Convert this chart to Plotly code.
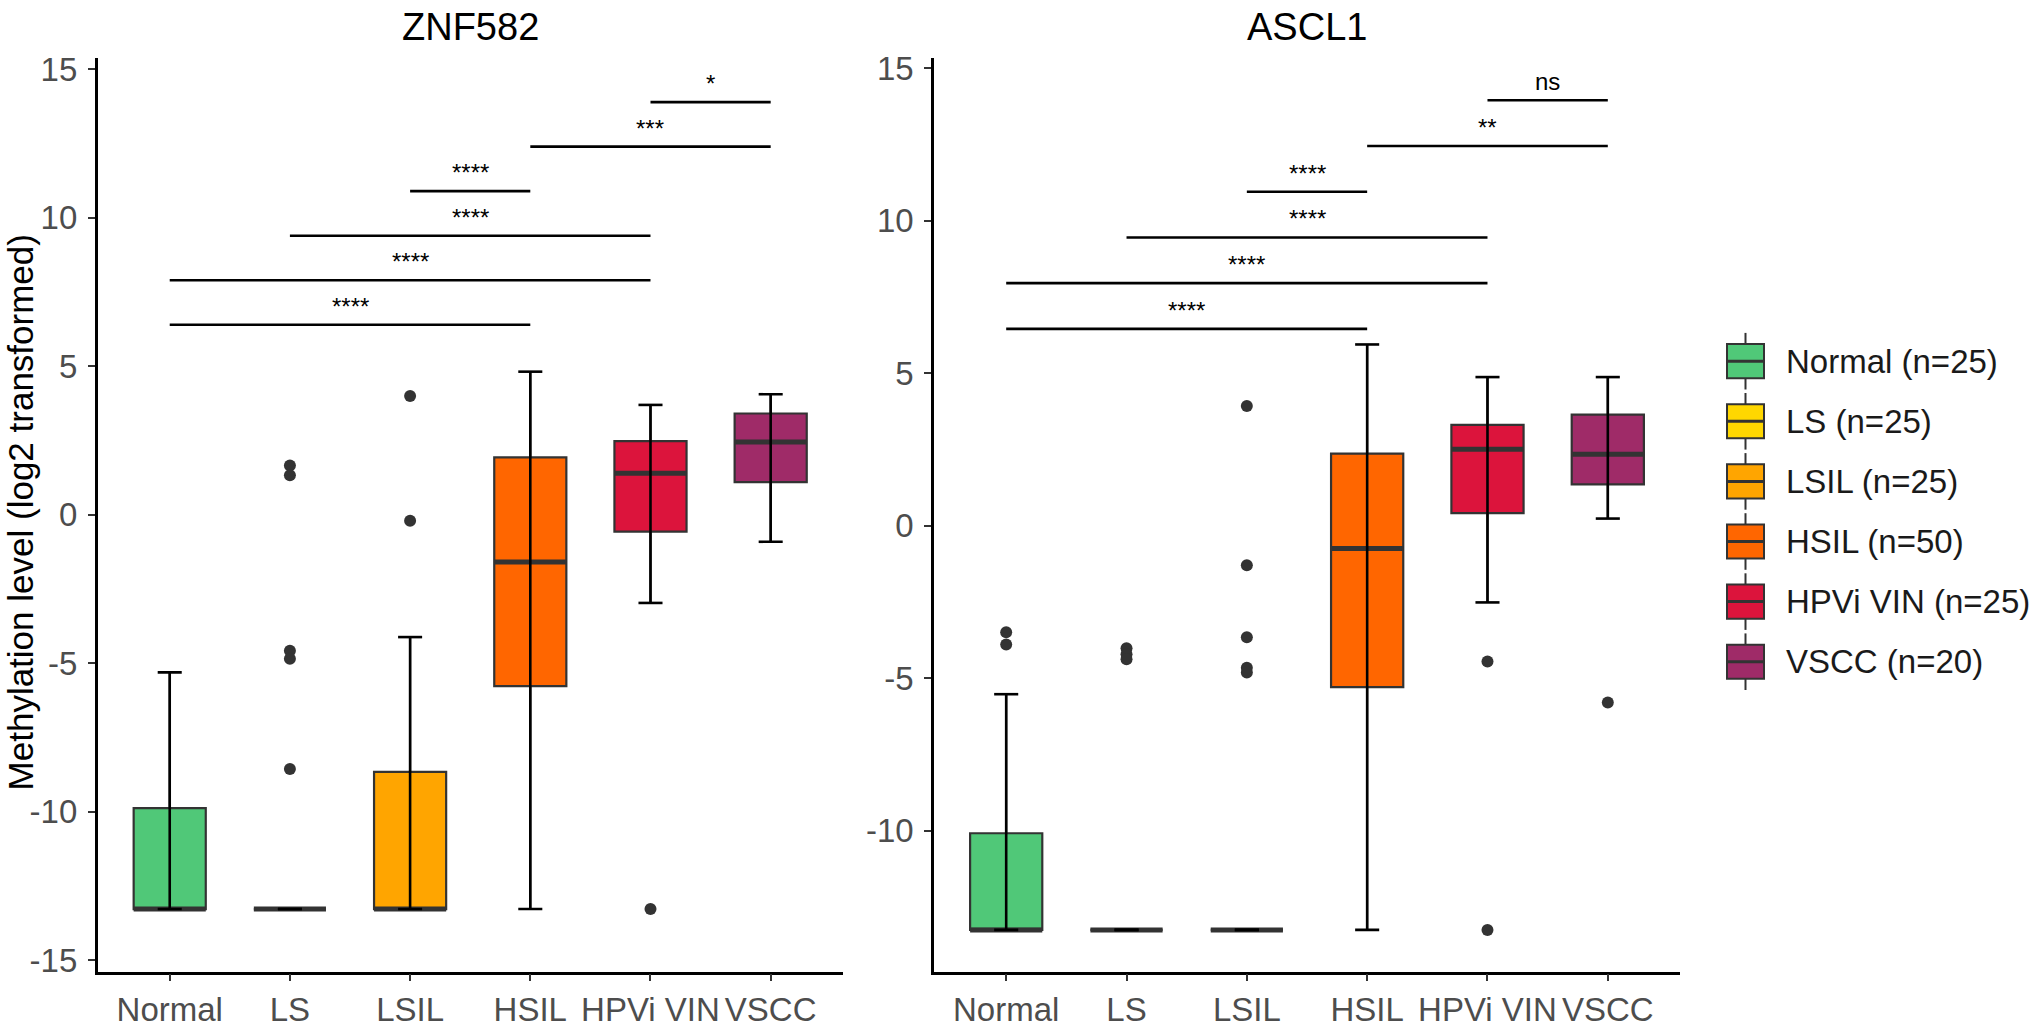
import plotly.graph_objects as go

# ---------------- data ----------------
groups = ["Normal", "LS", "LSIL", "HSIL", "HPVi VIN", "VSCC"]
group_n = [25, 25, 25, 50, 25, 20]
group_colors = ["#50C878", "#FFD700", "#FFA500", "#FF6600", "#DC143C", "#9F2B68"]

znf_lower = [-13.28, -13.28, -13.28, -13.28, -2.97, -0.91]
znf_q1 = [-13.28, -13.28, -13.28, -5.77, -0.57, 1.10]
znf_median = [-13.28, -13.28, -13.28, -1.59, 1.40, 2.45]
znf_q3 = [-9.88, -13.28, -8.66, 1.93, 2.48, 3.41]
znf_upper = [-5.31, -13.28, -4.12, 4.82, 3.70, 4.06]
znf_outliers = [[], [1.66, 1.33, -4.58, -4.85, -8.56], [4.00, -0.20], [], [-13.28], []]

ascl_lower = [-13.26, -13.26, -13.26, -13.26, -2.52, 0.23]
ascl_q1 = [-13.26, -13.26, -13.26, -5.30, 0.41, 1.35]
ascl_median = [-13.26, -13.26, -13.26, -0.75, 2.50, 2.34]
ascl_q3 = [-10.09, -13.26, -13.26, 2.36, 3.30, 3.64]
ascl_upper = [-5.53, -13.26, -13.26, 5.94, 4.87, 4.87]
ascl_outliers = [[-3.50, -3.90], [-4.02, -4.22, -4.38], [3.92, -1.30, -3.66, -4.66, -4.82],
                 [], [-4.46, -13.26], [-5.80]]

comparisons = [(0, 3), (0, 4), (1, 4), (2, 3), (3, 5), (4, 5)]
znf_sig_y = [6.4, 7.9, 9.4, 10.9, 12.4, 13.9]
znf_sig = ["****", "****", "****", "****", "***", "*"]
ascl_sig_y = [6.45, 7.95, 9.45, 10.95, 12.45, 13.95]
ascl_sig = ["****", "****", "****", "****", "**", "ns"]

y_ticks = [-15, -10, -5, 0, 5, 10, 15]

# ---------------- style / layout constants ----------------
W, H = 2034, 1028
FONT = "Liberation Sans, Arial, sans-serif"
BOX_W = 0.6
CAP_W = 0.2
OUTLINE = "#333333"
TICK_SIZE = 33

panels = [
    dict(title="ZNF582", xa="x", ya="y", lower=znf_lower, q1=znf_q1, med=znf_median,
         q3=znf_q3, upper=znf_upper, out=znf_outliers, sig_y=znf_sig_y, sig=znf_sig,
         px=(97.6, 842.8), yrange=[-15.39, 15.37]),
    dict(title="ASCL1", xa="x2", ya="y2", lower=ascl_lower, q1=ascl_q1, med=ascl_median,
         q3=ascl_q3, upper=ascl_upper, out=ascl_outliers, sig_y=ascl_sig_y, sig=ascl_sig,
         px=(934.0, 1680.0), yrange=[-14.63, 15.32]),
]
PANEL_TOP, PANEL_BOTTOM = 51.7, 987.7

fig = go.Figure()
annotations = []
shapes = []

for p in panels:
    xs = list(range(len(groups)))
    # boxes
    for i, g in enumerate(groups):
        fig.add_trace(go.Box(
            x=[xs[i]], q1=[p["q1"][i]], median=[p["med"][i]], q3=[p["q3"][i]],
            lowerfence=[p["lower"][i]], upperfence=[p["upper"][i]],
            width=BOX_W, whiskerwidth=0, boxpoints=False,
            fillcolor=group_colors[i], line=dict(color=OUTLINE, width=2.2),
            xaxis=p["xa"], yaxis=p["ya"], showlegend=False, hoverinfo="skip", name=g))
    # thick median lines
    mx, my = [], []
    for i in range(len(groups)):
        mx += [xs[i] - BOX_W / 2, xs[i] + BOX_W / 2, None]
        my += [p["med"][i], p["med"][i], None]
    fig.add_trace(go.Scatter(x=mx, y=my, mode="lines", line=dict(color=OUTLINE, width=5),
                             xaxis=p["xa"], yaxis=p["ya"], showlegend=False, hoverinfo="skip"))
    # error bar whiskers
    ex, ey = [], []
    for i in range(len(groups)):
        lo, hi = p["lower"][i], p["upper"][i]
        ex += [xs[i], xs[i], None, xs[i] - CAP_W / 2, xs[i] + CAP_W / 2, None,
               xs[i] - CAP_W / 2, xs[i] + CAP_W / 2, None]
        ey += [lo, hi, None, lo, lo, None, hi, hi, None]
    fig.add_trace(go.Scatter(x=ex, y=ey, mode="lines", line=dict(color="black", width=2.6),
                             xaxis=p["xa"], yaxis=p["ya"], showlegend=False, hoverinfo="skip"))
    # outliers
    ox, oy = [], []
    for i in range(len(groups)):
        for v in p["out"][i]:
            ox.append(xs[i])
            oy.append(v)
    fig.add_trace(go.Scatter(x=ox, y=oy, mode="markers",
                             marker=dict(color=OUTLINE, size=12, line=dict(width=0)),
                             xaxis=p["xa"], yaxis=p["ya"], showlegend=False, hoverinfo="skip"))
    # significance brackets
    bx, by = [], []
    for (a, b), h, lab in zip(comparisons, p["sig_y"], p["sig"]):
        bx += [a, b, None]
        by += [h, h, None]
        annotations.append(dict(x=(a + b) / 2, y=h, xref=p["xa"], yref=p["ya"], text=lab,
                                showarrow=False, yanchor="bottom", yshift=3,
                                font=dict(family=FONT, size=24, color="black")))
    fig.add_trace(go.Scatter(x=bx, y=by, mode="lines", line=dict(color="black", width=2.6),
                             xaxis=p["xa"], yaxis=p["ya"], showlegend=False, hoverinfo="skip"))
    # panel title
    annotations.append(dict(x=(p["px"][0] + p["px"][1]) / 2 / W, y=1 - 19.5 / H,
                            xref="paper", yref="paper", text=p["title"], showarrow=False,
                            xanchor="center", yanchor="middle",
                            font=dict(family=FONT, size=38, color="black")))

# y-axis title
annotations.append(dict(x=20 / W, y=1 - 517 / H, xref="paper",
                        yref="paper", text="Methylation level (log2 transformed)",
                        textangle=-90, showarrow=False, xanchor="center", yanchor="middle",
                        borderpad=0,
                        font=dict(family=FONT, size=35, color="black")))

# legend (drawn manually as boxplot keys)
LEG_X0, LEG_X1 = 1727, 1764
LEG_TOP, LEG_STEP = 362, 61.6
for i, g in enumerate(groups):
    cy = LEG_TOP + i * LEG_STEP
    xm = (LEG_X0 + LEG_X1) / 2
    shapes.append(dict(type="line", xref="paper", yref="paper", x0=xm / W, x1=xm / W,
                       y0=1 - (cy - 29) / H, y1=1 - (cy + 29) / H,
                       line=dict(color=OUTLINE, width=2)))
    shapes.append(dict(type="rect", xref="paper", yref="paper", x0=LEG_X0 / W, x1=LEG_X1 / W,
                       y0=1 - (cy + 17.5) / H, y1=1 - (cy - 17.5) / H,
                       fillcolor=group_colors[i], line=dict(color=OUTLINE, width=2)))
    shapes.append(dict(type="line", xref="paper", yref="paper", x0=LEG_X0 / W, x1=LEG_X1 / W,
                       y0=1 - cy / H, y1=1 - cy / H, line=dict(color=OUTLINE, width=3)))
    annotations.append(dict(x=1784 / W, y=1 - cy / H, xref="paper", yref="paper",
                            text=f"{g} (n={group_n[i]})", showarrow=False,
                            xanchor="left", yanchor="middle",
                            font=dict(family=FONT, size=33, color="#1a1a1a")))

ydom = [1 - PANEL_BOTTOM / H, 1 - PANEL_TOP / H]
common_x = dict(range=[-0.6, len(groups) - 0.4], tickvals=list(range(len(groups))),
                ticktext=groups, tickangle=0, showline=True, linecolor="black", linewidth=2.5,
                ticks="outside", ticklen=7, tickwidth=2, tickcolor="#333333",
                tickfont=dict(family=FONT, size=TICK_SIZE, color="#4D4D4D"),
                showgrid=False, zeroline=False, fixedrange=True)
common_y = dict(tickvals=y_ticks, ticktext=[str(v) for v in y_ticks], showline=True,
                linecolor="black", linewidth=2.5, ticks="outside", ticklen=7, tickwidth=2,
                tickcolor="#333333", tickfont=dict(family=FONT, size=TICK_SIZE, color="#4D4D4D"),
                ticklabelstandoff=4, showgrid=False, zeroline=False, fixedrange=True)

fig.update_layout(
    width=W, height=H, autosize=False,
    margin=dict(l=0, r=0, t=0, b=0),
    paper_bgcolor="white", plot_bgcolor="white",
    showlegend=False,
    xaxis=dict(domain=[panels[0]["px"][0] / W, panels[0]["px"][1] / W], anchor="y", **common_x),
    yaxis=dict(domain=ydom, anchor="x", range=panels[0]["yrange"], **common_y),
    xaxis2=dict(domain=[panels[1]["px"][0] / W, panels[1]["px"][1] / W], anchor="y2", **common_x),
    yaxis2=dict(domain=ydom, anchor="x2", range=panels[1]["yrange"], **common_y),
    annotations=annotations,
    shapes=shapes,
    font=dict(family=FONT),
)

fig.write_html("out.html", config={"displayModeBar": False},
               post_script="document.body.style.margin='0px';document.body.style.overflow='hidden';")
